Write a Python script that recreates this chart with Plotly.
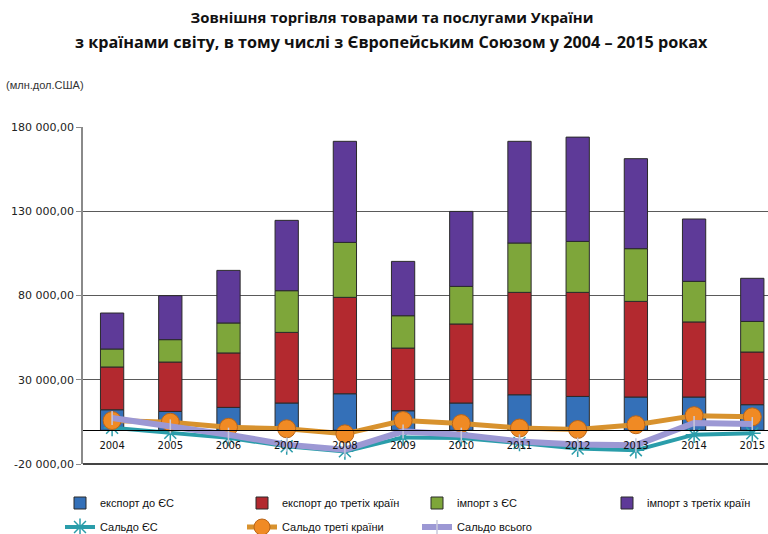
import plotly.graph_objects as go

years = ['2004', '2005', '2006', '2007', '2008', '2009', '2010', '2011', '2012', '2013', '2014', '2015']
export_eu = [12200, 11200, 13600, 16200, 21700, 11600, 16200, 21100, 20100, 19750, 19750, 15200]
export_third = [25370, 29300, 32300, 41900, 57200, 37200, 46900, 60750, 61750, 56750, 44550, 31250]
import_eu = [10680, 13300, 17800, 24750, 32600, 19200, 22300, 29300, 30250, 31300, 24100, 18150]
import_third = [21350, 26100, 31200, 41750, 60000, 32250, 44500, 60350, 61900, 53400, 37000, 25600]
saldo_eu = [1500, -1500, -4500, -9500, -12500, -4200, -4600, -7500, -10800, -11800, -2600, -1800]
saldo_third = [5800, 4800, 1800, 900, -2100, 5800, 4000, 1350, 500, 3300, 8700, 8000]
saldo_total = [7300, 2300, -2600, -8500, -11500, -650, -2600, -6600, -8500, -8800, 4300, 3700]

y_tick_vals = [-20000, 30000, 80000, 130000, 180000]
y_tick_text = ['-20 000,00', '30 000,00', '80 000,00', '130 000,00', '180 000,00']

names_bars = ['експорт до ЄС', 'експорт до третіх країн', 'імпорт з ЄС', 'імпорт з третіх країн']
names_lines = ['Сальдо ЄС', 'Сальдо треті країни', 'Сальдо всього']

W, H = 768, 534
ML, MR, MT, MB = 83, 0, 127, 70
PW, PH = W - ML - MR, H - MT - MB


def px(x):
    return (x - ML) / PW


def py(y):
    return (H - MB - y) / PH


fig = go.Figure()
bar_colors = ['#3470B8', '#B3292F', '#7EA63A', '#5E3A98']
for i, (name, vals, col) in enumerate(zip(names_bars, [export_eu, export_third, import_eu, import_third], bar_colors)):
    fig.add_trace(go.Bar(
        x=years, y=vals, name=name, legend='legend' if i == 0 else 'legend%d' % (i + 1),
        marker=dict(color=col, line=dict(color='#2a2a2a', width=1)),
    ))

fig.add_trace(go.Scatter(
    x=years, y=saldo_eu, name=names_lines[0], legend='legend5', mode='lines+markers',
    line=dict(color='#2A9DAA', width=4),
    marker=dict(symbol='asterisk-open', size=14, color='#2A9DAA', line=dict(color='#2A9DAA', width=1.5)),
))
fig.add_trace(go.Scatter(
    x=years, y=saldo_third, name=names_lines[1], legend='legend6', mode='lines+markers',
    line=dict(color='#D8922E', width=5),
    marker=dict(symbol='circle', size=18, color='#F08A24', line=dict(color='#B8651A', width=1)),
))
fig.add_trace(go.Scatter(
    x=years, y=saldo_total, name=names_lines[2], legend='legend7', mode='lines+markers',
    line=dict(color='#9C98D4', width=6),
    marker=dict(symbol='line-ns-open', size=10, color='#C8C8DC', line=dict(color='#C8C8DC', width=1.5)),
))

leg_font = dict(family='Liberation Sans', size=11, color='#111')
leg_common = dict(orientation='h', xanchor='left', yanchor='middle', xref='container', yref='container',
                  font=leg_font, bgcolor='rgba(0,0,0,0)')
leg_pos = [(60, 503), (242, 503), (417, 503), (607, 503), (60, 527), (242, 527), (417, 527)]
legends = {}
for i, (lx, ly) in enumerate(leg_pos):
    key = 'legend' if i == 0 else 'legend%d' % (i + 1)
    legends[key] = dict(x=lx / W, y=1 - ly / H, **leg_common)

fig.update_layout(
    width=W, height=H,
    margin=dict(l=ML, r=MR, t=MT, b=MB, autoexpand=False),
    paper_bgcolor='white', plot_bgcolor='white',
    barmode='relative', bargap=0.6,
    title=dict(
        text='<b>Зовнішня торгівля товарами та послугами України</b>',
        x=392 / W, xanchor='center', y=1 - 18 / H, yanchor='middle', yref='container',
        font=dict(family='Open Sans', size=14.9, color='#111'),
    ),
    xaxis=dict(
        type='category', range=[-0.5, 11.27], anchor='free', position=0.1, automargin=False,
        showline=True, linecolor='#000', linewidth=1, showgrid=False, ticks='',
        ticklabelstandoff=6, tickfont=dict(family='DejaVu Sans', size=10, color='#111'),
    ),
    yaxis=dict(
        range=[-20000, 180000], tickvals=y_tick_vals, ticktext=y_tick_text, automargin=False,
        showgrid=True, gridcolor='#5a5a5a', gridwidth=1, zeroline=False,
        showline=True, linecolor='#8a8a8a', linewidth=1.5,
        ticks='outside', ticklen=5, tickcolor='#8a8a8a',
        tickfont=dict(family='DejaVu Sans', size=11, color='#222'),
    ),
    showlegend=True,
    annotations=[
        dict(text='<b>з країнами світу, в тому числі з Європейським Союзом у 2004 – 2015 роках</b>',
             xref='paper', yref='paper', x=px(391), y=py(42), xanchor='center', yanchor='middle',
             showarrow=False, font=dict(family='Open Sans', size=16.2, color='#111')),
        dict(text='(млн.дол.США)', xref='paper', yref='paper', x=px(4), y=py(85),
             xanchor='left', yanchor='middle', showarrow=False,
             font=dict(family='Liberation Sans', size=11, color='#333')),
    ],
    shapes=[dict(type='line', xref='paper', yref='paper', x0=0, x1=1, y0=0, y1=0,
                 line=dict(color='#444', width=2))],
    **legends,
)

fig.write_html('out.html', config={'displayModeBar': False},
               post_script="document.body.style.margin='0px';document.body.style.overflow='hidden';")
